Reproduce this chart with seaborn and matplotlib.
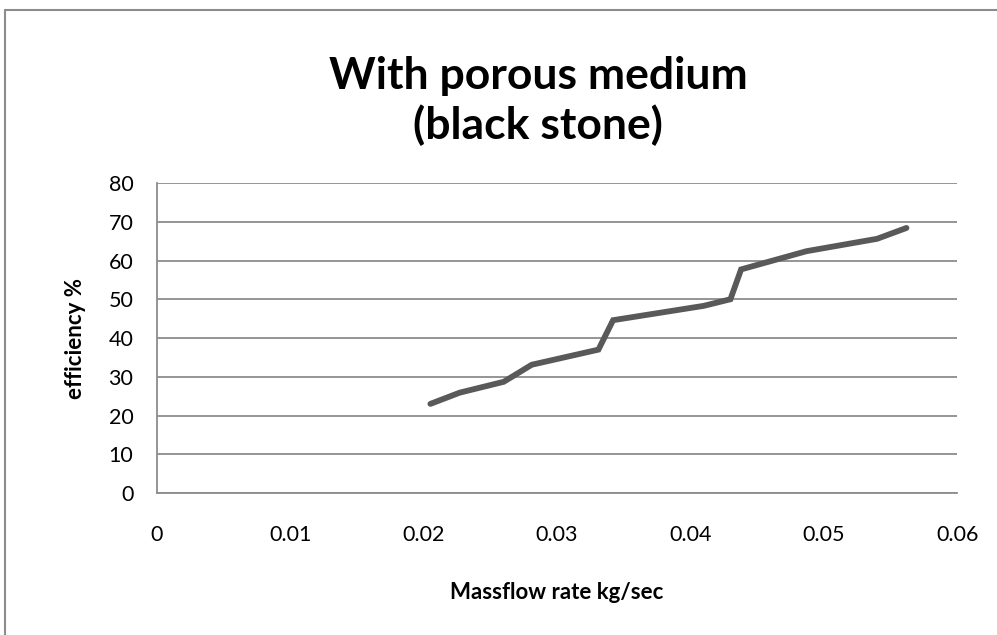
import pandas as pd
import matplotlib.pyplot as plt
import seaborn as sns
from matplotlib.lines import Line2D

# values
massflow = [0.0205, 0.0227, 0.0260, 0.0281, 0.0331, 0.0342, 0.0410, 0.0430, 0.0438, 0.0487, 0.0540, 0.0562]
efficiency = [23.0, 25.9, 28.7, 33.1, 37.0, 44.6, 48.3, 50.0, 57.7, 62.4, 65.6, 68.4]
x_ticks = [0, 0.01, 0.02, 0.03, 0.04, 0.05, 0.06]
x_labels = ['0', '0.01', '0.02', '0.03', '0.04', '0.05', '0.06']
y_ticks = [0, 10, 20, 30, 40, 50, 60, 70, 80]

df = pd.DataFrame({'massflow': massflow, 'efficiency': efficiency})

sns.set_style('white')
plt.rcParams['font.family'] = ['Lato', 'DejaVu Sans']
plt.rcParams['text.color'] = 'black'

fig = plt.figure(figsize=(9.97, 6.35), dpi=100)
ax = fig.add_axes([0.1575, 0.2236, 0.8025, 0.4882])

sns.lineplot(data=df, x='massflow', y='efficiency', sort=False, color='#595959',
             linewidth=4.2, solid_capstyle='round', solid_joinstyle='miter', ax=ax)

ax.set_xlim(0, 0.06)
ax.set_ylim(0, 80)
ax.set_xticks(x_ticks)
ax.set_xticklabels(x_labels)
ax.set_yticks(y_ticks)
ax.tick_params(axis='both', length=0, labelsize=15.5, colors='black')
ax.tick_params(axis='x', pad=23)
ax.tick_params(axis='y', pad=17)
ax.grid(axis='y', color='#8c8c8c', linewidth=1.3)
ax.set_axisbelow(True)
for side in ['top', 'right']:
    ax.spines[side].set_visible(False)
for side in ['left', 'bottom']:
    ax.spines[side].set_color('#8c8c8c')
    ax.spines[side].set_linewidth(1.3)

ax.set_xlabel('Massflow rate kg/sec', fontsize=16, fontweight='bold', labelpad=27, color='black')
ax.set_ylabel('efficiency %', fontsize=16, fontweight='bold', labelpad=16, color='black')

fig.text(0.54, 0.841, 'With porous medium\n(black stone)', ha='center', va='center',
         fontsize=32, fontweight='bold', linespacing=1.22, color='black')

# outer chart frame (cropped at right and bottom)
fig.add_artist(Line2D([0.005, 1.0], [0.984, 0.984], transform=fig.transFigure, color='#8c8c8c', lw=1.5))
fig.add_artist(Line2D([0.005, 0.005], [0.0, 0.984], transform=fig.transFigure, color='#8c8c8c', lw=1.5))

fig.savefig('out.png', dpi=100)
